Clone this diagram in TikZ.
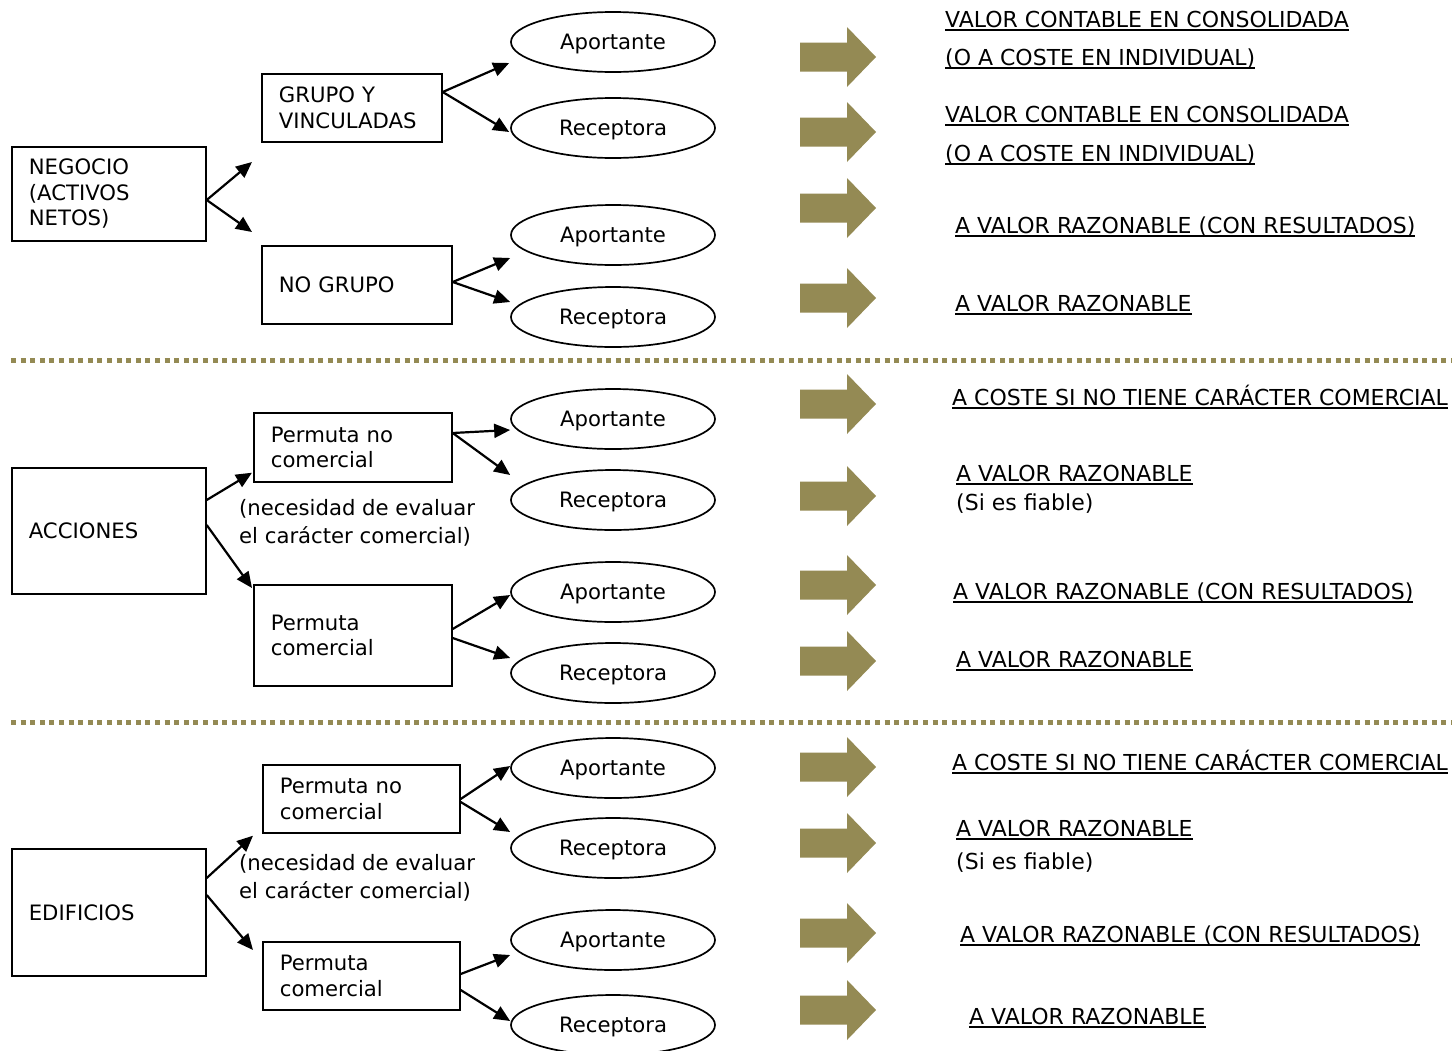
\documentclass[tikz,border=0pt]{standalone}
\usepackage{fontspec}
\setmainfont{DejaVu Sans}
\usetikzlibrary{arrows.meta,shapes.geometric,calc}
\definecolor{olivegr}{HTML}{948A54}
\newcommand\lf{\fontsize{21.2}{25.5}\selectfont}
\newcommand\rf{\fontsize{22}{26}\selectfont}
\newcommand\ulx[1]{\setbox0\hbox{#1}\rlap{\rule[-4.3pt]{\wd0}{1.9pt}}\box0}
\tikzset{
  box/.style={draw, line width=1.7pt, anchor=north west, inner xsep=17pt, inner ysep=0pt, align=left, font=\lf},
  ell/.style={ellipse, draw, line width=1.7pt, minimum width=204pt, minimum height=60pt, inner sep=0pt, text height=15pt, text depth=0pt, font=\lf},
  arr/.style={-{Triangle[length=16pt,width=14pt]}, line width=2.2pt},
  rtext/.style={anchor=base west, inner sep=0pt, font=\rf},
  note/.style={anchor=base west, inner sep=0pt, font=\lf},
  sep/.style={olivegr, line width=5pt, dash pattern=on 5pt off 4.6pt},
  blk/.style={fill=olivegr, draw=none}
}
\begin{document}
\begin{tikzpicture}[x=1pt,y=-1pt]
\useasboundingbox (0,0) rectangle (1454,1050);
\fill[white] (0,0) rectangle (1454,1050);

% separators
\coordinate (s1a) at (11,360); \coordinate (s1b) at (1452,360);
\coordinate (s2a) at (11,722); \coordinate (s2b) at (1452,722);
\draw[sep] (s1a) -- (s1b);
\draw[sep] (s2a) -- (s2b);

% boxes
\node[box, minimum width=194pt, minimum height=94pt, text width=160pt] (neg) at (11,146) {NEGOCIO\\(ACTIVOS\\NETOS)};
\node[box, minimum width=180pt, minimum height=68pt, text width=146pt] (grupo) at (261,73) {GRUPO Y\\VINCULADAS};
\node[box, minimum width=190pt, minimum height=78pt, text width=156pt] (nogrupo) at (261,245) {NO GRUPO};
\node[box, minimum width=194pt, minimum height=126pt, text width=160pt] (acc) at (11,467) {ACCIONES};
\node[box, minimum width=198pt, minimum height=69pt, text width=164pt] (pnc1) at (253,412) {Permuta no\\comercial};
\node[box, minimum width=198pt, minimum height=101pt, text width=164pt] (pc1) at (253,584) {Permuta\\comercial};
\node[box, minimum width=194pt, minimum height=127pt, text width=160pt] (edi) at (11,848) {EDIFICIOS};
\node[box, minimum width=197pt, minimum height=68pt, text width=163pt] (pnc2) at (262,764) {Permuta no\\comercial};
\node[box, minimum width=197pt, minimum height=68pt, text width=163pt] (pc2) at (262,941) {Permuta\\comercial};

% notes
\node[note] (nt1a) at (239,515) {(necesidad de evaluar};
\node[note] (nt1b) at (239,543) {el carácter comercial)};
\node[note] (nt2a) at (239,870) {(necesidad de evaluar};
\node[note] (nt2b) at (239,898) {el carácter comercial)};

% ellipses
\node[ell] (ap1) at (613,42) {Aportante};
\node[ell] (re1) at (613,128) {Receptora};
\node[ell] (ap2) at (613,235) {Aportante};
\node[ell] (re2) at (613,317) {Receptora};
\node[ell] (ap3) at (613,419) {Aportante};
\node[ell] (re3) at (613,500) {Receptora};
\node[ell] (ap4) at (613,592) {Aportante};
\node[ell] (re4) at (613,673) {Receptora};
\node[ell] (ap5) at (613,768) {Aportante};
\node[ell] (re5) at (613,848) {Receptora};
\node[ell] (ap6) at (613,940) {Aportante};
\node[ell] (re6) at (613,1025) {Receptora};

% free ends of NEGOCIO arrows
\coordinate (n1) at (252,162);
\coordinate (n2) at (252,232);

% connectors
\draw[arr] ($(neg.north east)+(0,54)$) -- (n1);
\draw[arr] ($(neg.north east)+(0,54)$) -- (n2);
\draw[arr] ($(grupo.north east)+(0,19)$) -- ($(ap1.west)+(-1,21)$);
\draw[arr] ($(grupo.north east)+(0,19)$) -- ($(re1.west)+(-1,4)$);
\draw[arr] ($(nogrupo.north east)+(0,37)$) -- ($(ap2.west)+(0,23)$);
\draw[arr] ($(nogrupo.north east)+(0,37)$) -- ($(re2.west)+(0,-15)$);

\draw[arr] ($(acc.north east)+(0,33)$) -- ($(pnc1.south west)+(-1,-10)$);
\draw[arr] ($(acc.north east)+(0,58)$) -- ($(pc1.north west)+(-1,4)$);
\draw[arr] ($(pnc1.north east)+(0,21)$) -- ($(ap3.west)+(0,11)$);
\draw[arr] ($(pnc1.north east)+(0,21)$) -- ($(re3.west)+(0,-25)$);
\draw[arr] ($(pc1.north east)+(0,45)$) -- ($(ap4.west)+(0,3)$);
\draw[arr] ($(pc1.north east)+(0,54)$) -- ($(re4.west)+(0,-15)$);

\draw[arr] ($(edi.north east)+(0,30)$) -- ($(pnc2.south west)+(-9,2)$);
\draw[arr] ($(edi.north east)+(0,47)$) -- ($(pc2.north west)+(-9,9)$);
\draw[arr] ($(pnc2.north east)+(0,35)$) -- ($(ap5.west)+(0,-2)$);
\draw[arr] ($(pnc2.north east)+(0,38)$) -- ($(re5.west)+(0,-16)$);
\draw[arr] ($(pc2.north east)+(0,33)$) -- ($(ap6.west)+(0,15)$);
\draw[arr] ($(pc2.north east)+(0,49)$) -- ($(re6.west)+(0,-4)$);

% block arrows
\foreach \yy in {57,132,208,298,404,496,585,661,767,843,933,1010}{
  \fill[blk] (800,\yy-14.5) -- (847,\yy-14.5) -- (847,\yy-30) -- (876,\yy) -- (847,\yy+30) -- (847,\yy+14.5) -- (800,\yy+14.5) -- cycle;
}

% right texts
\node[rtext] (r1a) at (945,27) {\ulx{VALOR CONTABLE EN CONSOLIDADA}};
\node[rtext] (r1b) at (945,65) {\ulx{(O A COSTE EN INDIVIDUAL)}};
\node[rtext] (r2a) at (945,122) {\ulx{VALOR CONTABLE EN CONSOLIDADA}};
\node[rtext] (r2b) at (945,161) {\ulx{(O A COSTE EN INDIVIDUAL)}};
\node[rtext] (r3) at (955,233) {\ulx{A VALOR RAZONABLE (CON RESULTADOS)}};
\node[rtext] (r4) at (955,311) {\ulx{A VALOR RAZONABLE}};
\node[rtext] (r5) at (952,405) {\ulx{A COSTE SI NO TIENE CARÁCTER COMERCIAL}};
\node[rtext] (r6a) at (956,481) {\ulx{A VALOR RAZONABLE}};
\node[rtext] (r6b) at (956,510) {(Si es fiable)};
\node[rtext] (r7) at (953,599) {\ulx{A VALOR RAZONABLE (CON RESULTADOS)}};
\node[rtext] (r8) at (956,667) {\ulx{A VALOR RAZONABLE}};
\node[rtext] (r9) at (952,770) {\ulx{A COSTE SI NO TIENE CARÁCTER COMERCIAL}};
\node[rtext] (r10a) at (956,836) {\ulx{A VALOR RAZONABLE}};
\node[rtext] (r10b) at (956,869) {(Si es fiable)};
\node[rtext] (r11) at (960,942) {\ulx{A VALOR RAZONABLE (CON RESULTADOS)}};
\node[rtext] (r12) at (969,1024) {\ulx{A VALOR RAZONABLE}};
\end{tikzpicture}
\end{document}
